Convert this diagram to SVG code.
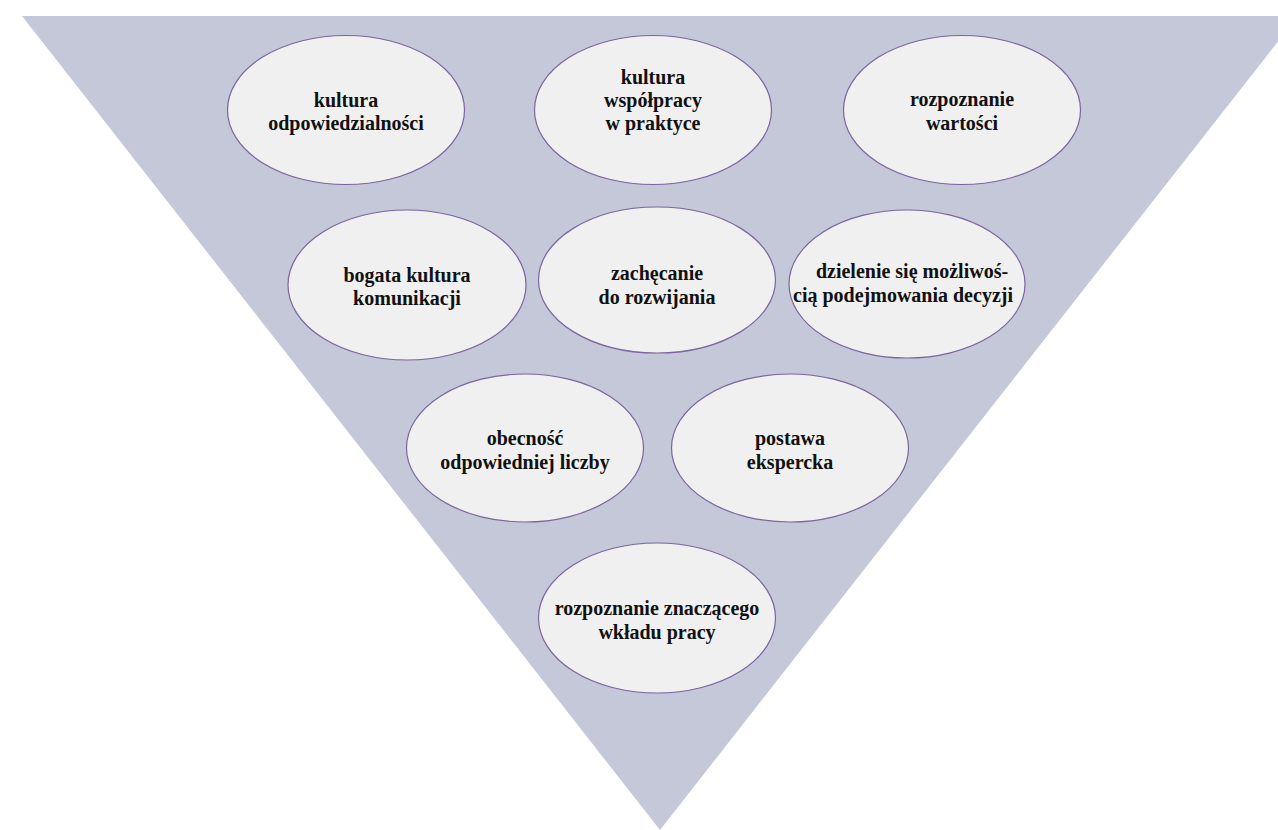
<svg xmlns="http://www.w3.org/2000/svg" width="1278" height="830" viewBox="0 0 1278 830">
  <style>
    .bg { fill: #ffffff; }
    .funnel { fill: #c5c8d8; }
    .node ellipse { fill: #f0f0f0; stroke: #7b64a0; stroke-width: 1.2; }
    .node text { font-family: "Liberation Serif", "DejaVu Serif", serif; font-weight: bold; font-size: 20px; fill: #111111; text-anchor: middle; }
  </style>
  <rect class="bg" x="0" y="0" width="1278" height="830"/>

  <!-- inverted triangle backdrop -->
  <polygon class="funnel" points="22,16 1298,16 660,830"/>

  <!-- no connectors in this figure -->
  <g id="connectors"></g>

  <!-- row 1 -->
  <g id="n1" class="node">
    <ellipse cx="346" cy="110" rx="118.5" ry="74.5"/>
    <text x="346" y="107">kultura</text>
    <text x="346" y="130">odpowiedzialności</text>
  </g>
  <g id="n2" class="node">
    <ellipse cx="653" cy="110" rx="118.5" ry="74.5"/>
    <text x="653" y="84">kultura</text>
    <text x="653" y="107">współpracy</text>
    <text x="653" y="130">w praktyce</text>
  </g>
  <g id="n3" class="node">
    <ellipse cx="962" cy="110" rx="118.5" ry="74.5"/>
    <text x="962" y="106">rozpoznanie</text>
    <text x="962" y="130">wartości</text>
  </g>

  <!-- row 2 -->
  <g id="n4" class="node">
    <ellipse cx="407" cy="285" rx="119" ry="75"/>
    <text x="407" y="282">bogata kultura</text>
    <text x="407" y="305">komunikacji</text>
  </g>
  <g id="n5" class="node">
    <ellipse cx="657" cy="280" rx="118.5" ry="73"/>
    <text x="657" y="280">zachęcanie</text>
    <text x="657" y="304">do rozwijania</text>
  </g>
  <g id="n6" class="node">
    <ellipse cx="907" cy="284" rx="118" ry="74"/>
    <text x="912" y="278">dzielenie się możliwoś-</text>
    <text x="903" y="302">cią podejmowania decyzji</text>
  </g>

  <!-- row 3 -->
  <g id="n7" class="node">
    <ellipse cx="525" cy="448" rx="118.5" ry="74"/>
    <text x="525" y="445">obecność</text>
    <text x="525" y="469">odpowiedniej liczby</text>
  </g>
  <g id="n8" class="node">
    <ellipse cx="790" cy="448" rx="118.5" ry="74"/>
    <text x="790" y="445">postawa</text>
    <text x="790" y="469">ekspercka</text>
  </g>

  <!-- row 4 -->
  <g id="n9" class="node">
    <ellipse cx="657" cy="618" rx="118.5" ry="75"/>
    <text x="657" y="615">rozpoznanie znaczącego</text>
    <text x="657" y="639">wkładu pracy</text>
  </g>
</svg>
